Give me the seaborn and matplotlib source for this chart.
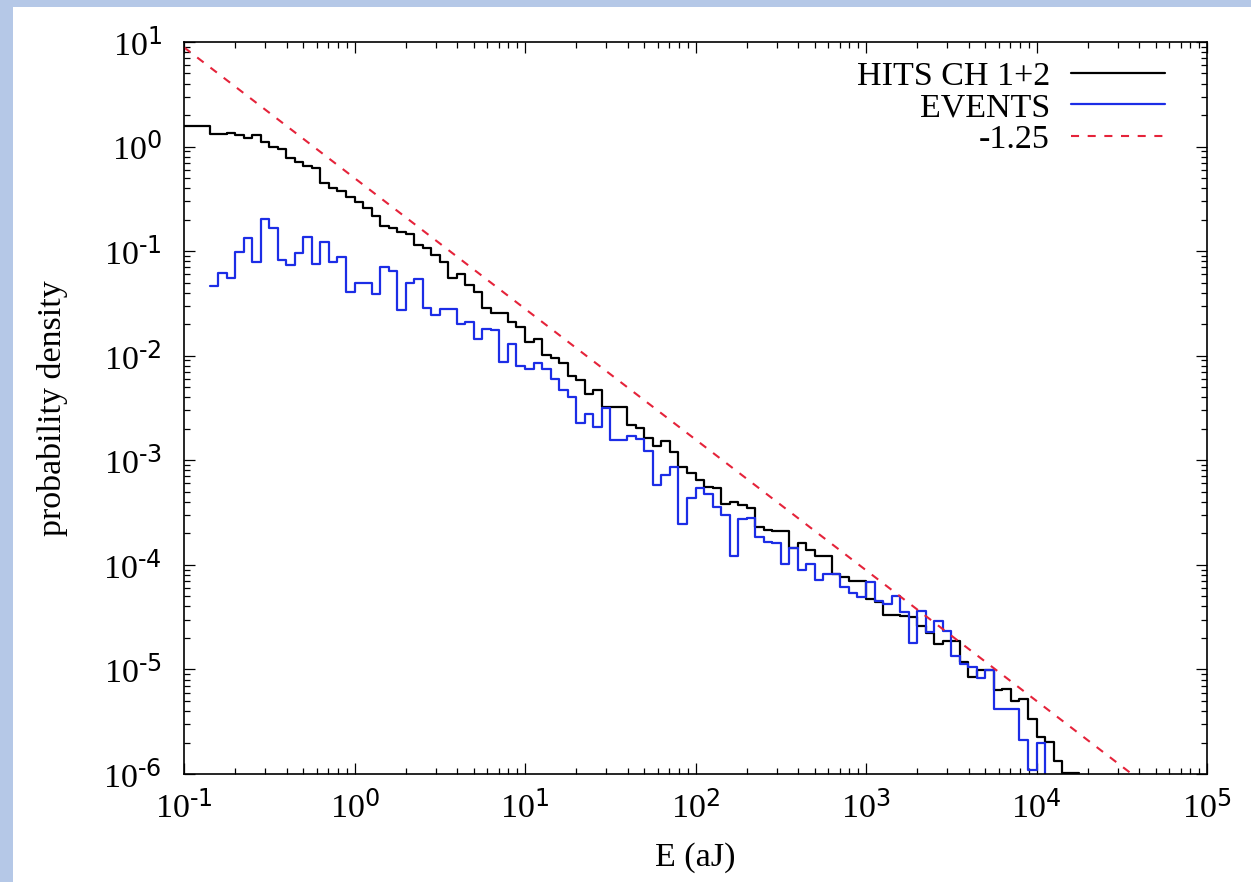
import numpy as np
import matplotlib
matplotlib.use("Agg")
import matplotlib.pyplot as plt
from matplotlib.patches import Rectangle
from matplotlib.ticker import FixedLocator, FixedFormatter, NullFormatter
import seaborn as sns

# ---------------- data ----------------
# histogram binning: logarithmic bins, 20 per decade, first edge at E = 0.1 aJ
bin_first_edge = 0.1
bins_per_decade = 20

# HITS CH 1+2 : log10(probability density) per bin, starting at bin 0
hits_log10 = [
    0.200, 0.200, 0.200, 0.120, 0.120, 0.127, 0.111, 0.079, 0.113, 0.040,
    -0.008, -0.026, -0.108, -0.150, -0.185, -0.208, -0.351, -0.399, -0.421, -0.479,
    -0.526, -0.590, -0.663, -0.755, -0.775, -0.818, -0.838, -0.945, -0.966, -1.040,
    -1.105, -1.253, -1.220, -1.323, -1.387, -1.546, -1.588, -1.588, -1.674, -1.722,
    -1.871, -1.843, -1.992, -2.024, -2.072, -2.193, -2.231, -2.368, -2.327, -2.495,
    -2.495, -2.487, -2.661, -2.693, -2.789, -2.865, -2.813, -2.916, -3.060, -3.117,
    -3.187, -3.257, -3.267, -3.417, -3.401, -3.427, -3.459, -3.641, -3.666, -3.673,
    -3.673, -3.835, -3.793, -3.857, -3.914, -3.914, -4.086, -4.112, -4.159, -4.159,
    -4.328, -4.351, -4.478, -4.478, -4.493, -4.495, -4.580, -4.650, -4.760, -4.732,
    -4.732, -4.930, -5.075, -5.004, -5.008, -5.200, -5.185, -5.300, -5.279, -5.476,
    -5.645, -5.690, -5.880, -5.990, -5.990,
]

# EVENTS : log10(probability density) per bin, starting at bin 3
# (last entry is below the plotted range: the curve drops out of the frame)
events_first_bin = 3
events_log10 = [
    -1.333, -1.205, -1.259, -1.004, -0.877, -1.100, -0.695,
    -0.775, -1.084, -1.132, -1.020, -0.861, -1.126, -0.909, -1.106, -1.059, -1.393,
    -1.307, -1.307, -1.409, -1.154, -1.189, -1.562, -1.304, -1.266, -1.546, -1.613,
    -1.553, -1.553, -1.699, -1.674, -1.843, -1.747, -1.753, -2.056, -1.890, -2.103,
    -2.128, -2.071, -2.128, -2.225, -2.327, -2.397, -2.639, -2.556, -2.677, -2.499,
    -2.808, -2.808, -2.765, -2.794, -2.907, -3.235, -3.140, -3.060, -3.612, -3.364,
    -3.262, -3.323, -3.444, -3.522, -3.914, -3.560, -3.554, -3.729, -3.777, -3.793,
    -3.990, -3.840, -4.048, -3.990, -4.143, -4.086, -4.086, -4.213, -4.270, -4.312,
    -4.165, -4.345, -4.370, -4.296, -4.450, -4.743, -4.443, -4.640, -4.541, -4.637,
    -4.876, -4.950, -4.980, -5.085, -5.010, -5.378, -5.378, -5.378, -5.678, -5.965,
    -5.700, -7.000,
]

# power-law reference line (slope -1.25), two end points
fit_E = [0.1, 1e5]
fit_p = [8.89, 2.81e-7]

series_labels = ["HITS CH 1+2", "EVENTS", "-1.25"]
series_colors = ["#000000", "#1c2de6", "#e5233a"]

x_ticks = [1e-1, 1e0, 1e1, 1e2, 1e3, 1e4, 1e5]
x_tick_labels = ["-1", "0", "1", "2", "3", "4", "5"]
y_ticks = [1e-6, 1e-5, 1e-4, 1e-3, 1e-2, 1e-1, 1e0, 1e1]
y_tick_labels = ["-6", "-5", "-4", "-3", "-2", "-1", "0", "1"]
x_label = "E (aJ)"
y_label = "probability density"

# ---------------- build step series ----------------
def step_series(first_bin, log_vals):
    n = len(log_vals)
    k = np.arange(first_bin, first_bin + n + 1)
    edges = bin_first_edge * 10.0 ** (k / bins_per_decade)
    vals = 10.0 ** np.asarray(log_vals, dtype=float)
    vals = np.append(vals, vals[-1])
    return edges, vals

hx, hy = step_series(0, hits_log10)
ex, ey = step_series(events_first_bin, events_log10)

def tick_fmt(s):
    return r"$\mathregular{10^{\text{%s}}}$" % s

# ---------------- styling ----------------
sns.set_theme(style="ticks")
plt.rcParams["font.family"] = ["Liberation Serif", "DejaVu Serif"]
plt.rcParams["mathtext.default"] = "regular"
plt.rcParams["lines.scale_dashes"] = False
plt.rcParams["text.color"] = "black"
plt.rcParams["axes.labelcolor"] = "black"
plt.rcParams["xtick.color"] = "black"
plt.rcParams["ytick.color"] = "black"

W, H = 1251, 882
fig = plt.figure(figsize=(W / 100, H / 100), dpi=100, facecolor="#b5c8e7")
fig.add_artist(Rectangle((13 / W, 0), 1, 1 - 7 / H, transform=fig.transFigure,
                         facecolor="white", edgecolor="none", zorder=-10))
ax = fig.add_axes([184 / W, 1 - 774 / H, 1023 / W, 732 / H])
ax.set_facecolor("white")
ax.set_xscale("log")
ax.set_yscale("log")

sns.lineplot(x=hx, y=hy, ax=ax, color=series_colors[0], lw=1.6,
             drawstyle="steps-post", estimator=None, sort=False,
             label=series_labels[0])
sns.lineplot(x=ex, y=ey, ax=ax, color=series_colors[1], lw=1.6,
             drawstyle="steps-post", estimator=None, sort=False,
             label=series_labels[1])
sns.lineplot(x=fit_E, y=fit_p, ax=ax, color=series_colors[2], lw=1.5,
             dashes=False, linestyle=(0, (5.8, 6.2)), estimator=None, sort=False,
             label=series_labels[2])

ax.set_xlim(1e-1, 1e5)
ax.set_ylim(1e-6, 1e1)

fs = 24.5
ax.xaxis.set_major_locator(FixedLocator(x_ticks))
ax.xaxis.set_major_formatter(FixedFormatter([tick_fmt(s) for s in x_tick_labels]))
ax.yaxis.set_major_locator(FixedLocator(y_ticks))
ax.yaxis.set_major_formatter(FixedFormatter([tick_fmt(s) for s in y_tick_labels]))
xminor = [m * 10.0 ** d for d in range(-1, 5) for m in range(2, 10)]
yminor = [m * 10.0 ** d for d in range(-6, 1) for m in range(2, 10)]
ax.xaxis.set_minor_locator(FixedLocator(xminor))
ax.yaxis.set_minor_locator(FixedLocator(yminor))
ax.xaxis.set_minor_formatter(NullFormatter())
ax.yaxis.set_minor_formatter(NullFormatter())

ax.tick_params(which="both", direction="in", top=True, right=True,
               color="black", width=0.9, labelsize=fs, labelcolor="black")
ax.tick_params(which="major", length=8)
ax.tick_params(which="minor", length=4.3)
ax.tick_params(axis="x", which="major", pad=12)
ax.tick_params(axis="y", which="major", pad=16)
for sp in ax.spines.values():
    sp.set_visible(True)
    sp.set_linewidth(1.2)
    sp.set_color("black")

ax.set_xlabel(x_label, fontsize=fs, color="black")
ax.set_ylabel(y_label, fontsize=fs, color="black")
ax.xaxis.set_label_coords(0.5, -0.093)
ax.yaxis.set_label_coords(-0.113, 0.5)

handles, labels = ax.get_legend_handles_labels()
leg = ax.legend(handles[:3], labels[:3], loc="upper right",
                bbox_to_anchor=(0.959, 0.974), frameon=False, markerfirst=False,
                fontsize=fs, handlelength=2.75, handletextpad=0.63,
                labelspacing=0.02, borderpad=0, borderaxespad=0,
                labelcolor="black")

fig.savefig("out.png", dpi=100, facecolor=fig.get_facecolor())
